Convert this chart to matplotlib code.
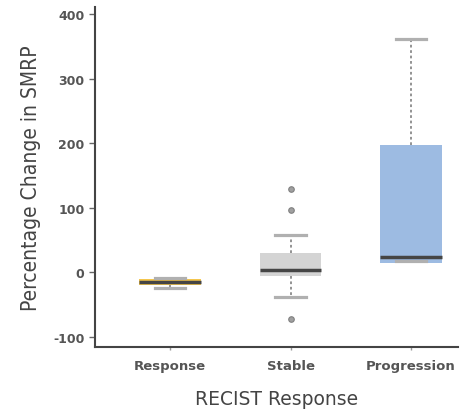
import matplotlib.pyplot as plt

# Box summary values
groups = ['Response', 'Stable', 'Progression']
whislo = [-24, -38, 17]
q1 = [-20, -6, 15]
med = [-15, 3, 24]
q3 = [-11, 30, 197]
whishi = [-9, 58, 362]
fliers = [[], [129, 96, -73], []]
box_colors = ['#f4c64e', '#d4d4d4', '#9dbbe2']

stats = []
for i, g in enumerate(groups):
    stats.append(dict(label=g, whislo=whislo[i], q1=q1[i], med=med[i], q3=q3[i],
                      whishi=whishi[i], fliers=fliers[i]))

fig = plt.figure(figsize=(4.61, 4.14), dpi=100)
ax = fig.add_axes([0.206, 0.159, 0.787, 0.822])

bp = ax.bxp(stats, positions=[1, 2, 3], widths=0.51, patch_artist=True,
            boxprops=dict(linewidth=0),
            medianprops=dict(color='#454545', linewidth=2.5),
            whiskerprops=dict(color='#8a8a8a', linestyle=(0, (1.5, 1.5)), linewidth=1.3),
            capprops=dict(color='#b0b0b0', linewidth=2.3),
            capwidths=0.25,
            flierprops=dict(marker='o', markersize=4, markerfacecolor='#a0a0a0',
                            markeredgecolor='#808080', markeredgewidth=0.8))
for patch, c in zip(bp['boxes'], box_colors):
    patch.set_facecolor(c)

ax.set_xlim(0.375, 3.39)
ax.set_ylim(-116, 411)
ax.set_yticks([-100, 0, 100, 200, 300, 400])
ax.set_yticklabels(['-100', '0', '100', '200', '300', '400'])

for s in ['top', 'right']:
    ax.spines[s].set_visible(False)
for s in ['left', 'bottom']:
    ax.spines[s].set_color('#444444')
    ax.spines[s].set_linewidth(1.5)
ax.tick_params(axis='y', colors='#666666', length=4, width=1, labelsize=9)
ax.tick_params(axis='x', colors='#999999', length=2.5, width=1, pad=6, labelsize=9.5)
for lab in ax.get_xticklabels() + ax.get_yticklabels():
    lab.set_fontfamily('DejaVu Sans')
    lab.set_fontweight('bold')
    lab.set_color('#555555')

ax.set_ylabel('Percentage Change in SMRP', fontsize=15, family='DejaVu Sans',
              fontstretch='condensed', color='#444444', labelpad=9)
ax.set_xlabel('RECIST Response', fontsize=13.5, family='DejaVu Sans',
              color='#444444', labelpad=12)

fig.savefig('out.png', dpi=100)
